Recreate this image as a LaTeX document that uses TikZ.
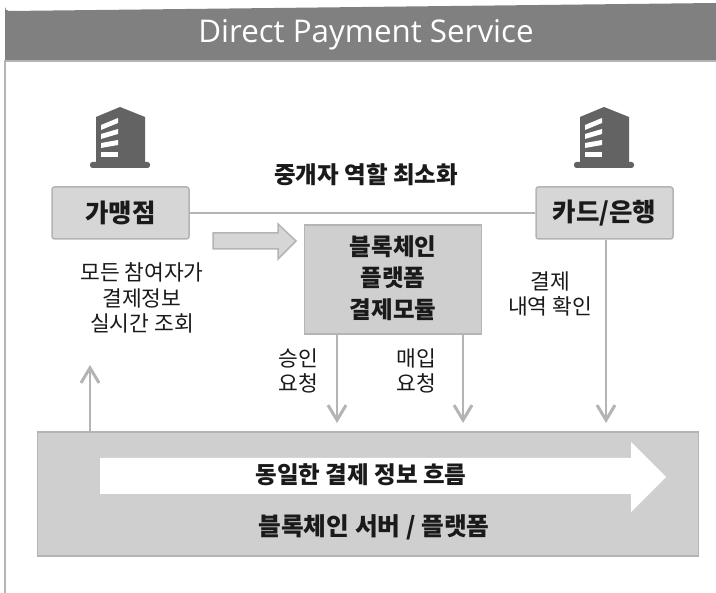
\documentclass[tikz,border=0pt]{standalone}
\usepackage{fontspec}
\setmainfont{Noto Sans CJK KR}
\newfontfamily\latinhead{Open Sans}
\usetikzlibrary{arrows.meta}
\definecolor{headgray}{HTML}{808080}
\definecolor{edgegray}{HTML}{B4B4B4}
\definecolor{fillgray}{HTML}{D6D6D6}
\definecolor{fillmid}{HTML}{CFCFCF}
\definecolor{bldgray}{HTML}{636363}
\definecolor{txtdark}{HTML}{1A1A1A}
\tikzset{
  plainbox/.style={draw=edgegray,line width=1.5pt,fill=fillgray,rounded corners=2.5pt,minimum width=137pt,minimum height=52pt,inner sep=0pt,font=\fontsize{25.5}{28}\selectfont\bfseries,text=txtdark},
  squarebox/.style={draw=edgegray,line width=1.5pt,fill=fillmid,inner sep=0pt},
  lbl/.style={font=\fontsize{21.5}{25.5}\selectfont,text=txtdark,align=center,inner sep=0pt},
  boldlbl/.style={font=\fontsize{23.5}{31.5}\selectfont\bfseries,text=txtdark,align=center,inner sep=0pt},
  conn/.style={draw=edgegray,line width=2.5pt},
  arrowconn/.style={conn,-{Straight Barb[length=15pt,width=18pt,line width=3pt]}},
  building/.pic={
    \fill[bldgray] (6,10) -- (30,0) -- (55,10) -- (55,56) -- (6,56) -- cycle;
    \fill[bldgray,rounded corners=2.5pt] (0,55) rectangle (60,61);
    \fill[white] (11,18) -- (28,11) -- (28,16) -- (11,23) -- cycle;
    \fill[white] (11,27) -- (28,22) -- (28,27) -- (11,32) -- cycle;
    \fill[white] (11,36) -- (28,33) -- (28,38) -- (11,41) -- cycle;
    \fill[white] (11,45) -- (28,45) -- (28,50) -- (11,50) -- cycle;
  }
}
\begin{document}
\begin{tikzpicture}[x=1pt,y=-1pt]
\useasboundingbox (0,0) rectangle (716,593);
\fill[white] (0,0) rectangle (716,593);
% frame and header
\draw[draw=edgegray,line width=1.2pt] (5,60) -- (5,593);
\fill[headgray] (5,61) -- (5,7) arc[start angle=180,end angle=90,radius=4] -- (716,3) -- (716,61) -- cycle;
\fill[edgegray] (5,60) rectangle (716,62);
\node[text=white,font=\latinhead\fontsize{31.3}{34}\selectfont,inner sep=0pt] (title) at (366,35) {Direct Payment Service};
% buildings
\pic at (90,107) {building};
\pic at (574,107) {building};
% boxes
\node[plainbox] (shop) at (120.5,213) {가맹점};
\node[plainbox] (card) at (604.5,213) {카드/은행};
\node[squarebox,minimum width=177pt,minimum height=109pt] (module) at (393,279.5) {};
\node[boldlbl] (modtxt) at (393,278) {블록체인\\플랫폼\\결제모듈};
\node[squarebox,minimum width=661pt,minimum height=124pt] (server) at (368,494) {};
% connectors
\draw[conn] (shop.east) -- (card.west);
\coordinate (a1) at (337,423);
\coordinate (a2) at (463,423);
\coordinate (a3) at (606,423);
\coordinate (a4) at (90,365);
\draw[arrowconn] (module.south -| a1) -- (a1);
\draw[arrowconn] (module.south -| a2) -- (a2);
\draw[arrowconn] (card.south -| a3) -- (a3);
\draw[arrowconn] (server.north -| a4) -- (a4);
% fat arrows
\path[draw=edgegray,line width=1.5pt,fill=fillgray] (213,233) -- (278,233) -- (278,224) -- (296,241) -- (278,259) -- (278,249) -- (213,249) -- cycle;
\fill[white] (100,458) -- (631,458) -- (631,442) -- (666,477) -- (631,512) -- (631,494) -- (100,494) -- cycle;
% labels
\node[boldlbl] (mid) at (366,175) {중개자 역할 최소화};
\node[lbl] (l1) at (142,298) {모든 참여자가\\결제정보\\실시간 조회};
\node[lbl] (l2) at (298,371) {승인\\요청};
\node[lbl] (l3) at (416,371) {매입\\요청};
\node[lbl] (l4) at (550,294) {결제\\내역 확인};
\node[boldlbl] (flow) at (361,475) {동일한 결제 정보 흐름};
\node[boldlbl] (srv) at (374,527) {\fontsize{24.7}{30}\selectfont 블록체인 서버 / 플랫폼};
\end{tikzpicture}
\end{document}
